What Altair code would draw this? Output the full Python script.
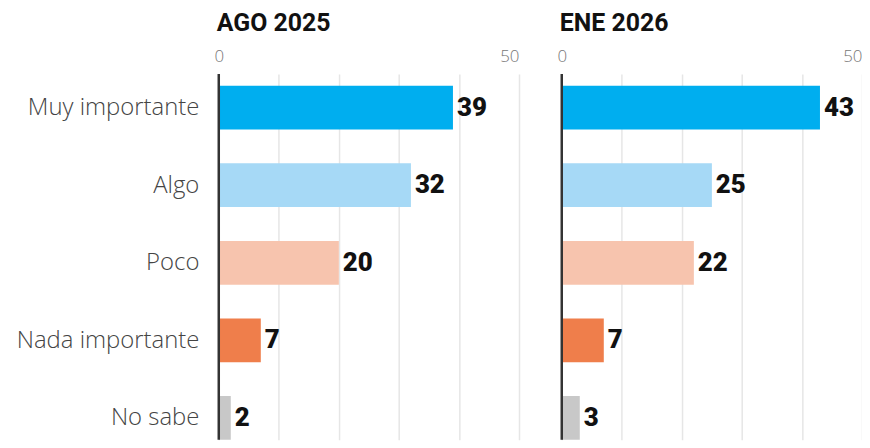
import json
import altair as alt
import pandas as pd

categories = ["Muy importante", "Algo", "Poco", "Nada importante", "No sabe"]
ago_2025 = [39, 32, 20, 7, 2]
ene_2026 = [43, 25, 22, 7, 3]
colors = ["#00AEEF", "#A6D9F6", "#F7C4AE", "#EF7E4B", "#C8C8C8"]
panel_titles = ["AGO 2025", "ENE 2026"]
x_ticks = [0, 10, 20, 30, 40, 50]
x_labels_shown = [0, 50]

LABEL_FONT = "Open Sans"
BOLD_FONT = "Roboto"


def panel(values, title, show_labels):
    df = pd.DataFrame({"cat": categories,
                       "idx": list(range(len(categories))),
                       "value": values})
    xscale = alt.Scale(domain=[0, 50], nice=False, zero=True)
    yscale = alt.Scale(domain=[-0.436, 4.282], reverse=True, nice=False, zero=False, padding=0)
    xaxis = alt.Axis(
        orient="top", values=x_ticks, title=None,
        labelExpr="indexof(%s, datum.value) >= 0 ? datum.label : ''" % json.dumps(x_labels_shown),
        labelAlign={"condition": {"test": "datum.value == 50", "value": "right"}, "value": "center"},
        ticks=False, domain=False, grid=True, gridColor="#e6e6e6", gridWidth=1.5,
        labelFont=LABEL_FONT, labelFontWeight=300, labelFontSize=17, labelColor="#777777",
        labelPadding=8, minExtent=30, maxExtent=30,
    )
    if show_labels:
        yaxis = alt.Axis(
            values=list(range(len(categories))), title=None,
            labelExpr="%s[datum.value]" % json.dumps(categories),
            ticks=False, domain=False, grid=False, labelLimit=0,
            labelFont=LABEL_FONT, labelFontWeight=300, labelFontSize=24, labelColor="#444444",
            labelPadding=20, minExtent=212, maxExtent=212,
        )
    else:
        yaxis = None

    bars = alt.Chart(df).mark_bar(orient="horizontal", size=44).encode(
        x=alt.X("value:Q", scale=xscale, axis=xaxis),
        x2=alt.datum(0),
        y=alt.Y("idx:Q", scale=yscale, axis=yaxis),
        color=alt.Color("cat:N", scale=alt.Scale(domain=categories, range=colors), legend=None),
    )
    text = alt.Chart(df).mark_text(
        align="left", baseline="middle", dx=4, fontSize=26, fontWeight=900,
        font=BOLD_FONT, color="#111111",
    ).encode(
        x=alt.X("value:Q", scale=xscale),
        y=alt.Y("idx:Q", scale=yscale),
        text=alt.Text("value:Q"),
    )
    zero = alt.Chart(pd.DataFrame({"z": [0]})).mark_rule(color="#333333", strokeWidth=2.5).encode(
        x=alt.X("z:Q", scale=xscale)
    )
    return alt.layer(bars, text, zero).properties(
        width=302, height=368,
        title=alt.TitleParams(title, anchor="start", frame="group", fontSize=25, font=BOLD_FONT,
                              fontWeight="bold", color="#111111", offset=8, dx=-2),
    )


chart = alt.hconcat(
    panel(ago_2025, panel_titles[0], True),
    panel(ene_2026, panel_titles[1], False),
    spacing=38,
).properties(padding={"top": 2, "left": 0, "right": 0, "bottom": 0}).configure_view(stroke=None)

chart.save("out.html", embed_options={"renderer": "svg", "actions": False})
